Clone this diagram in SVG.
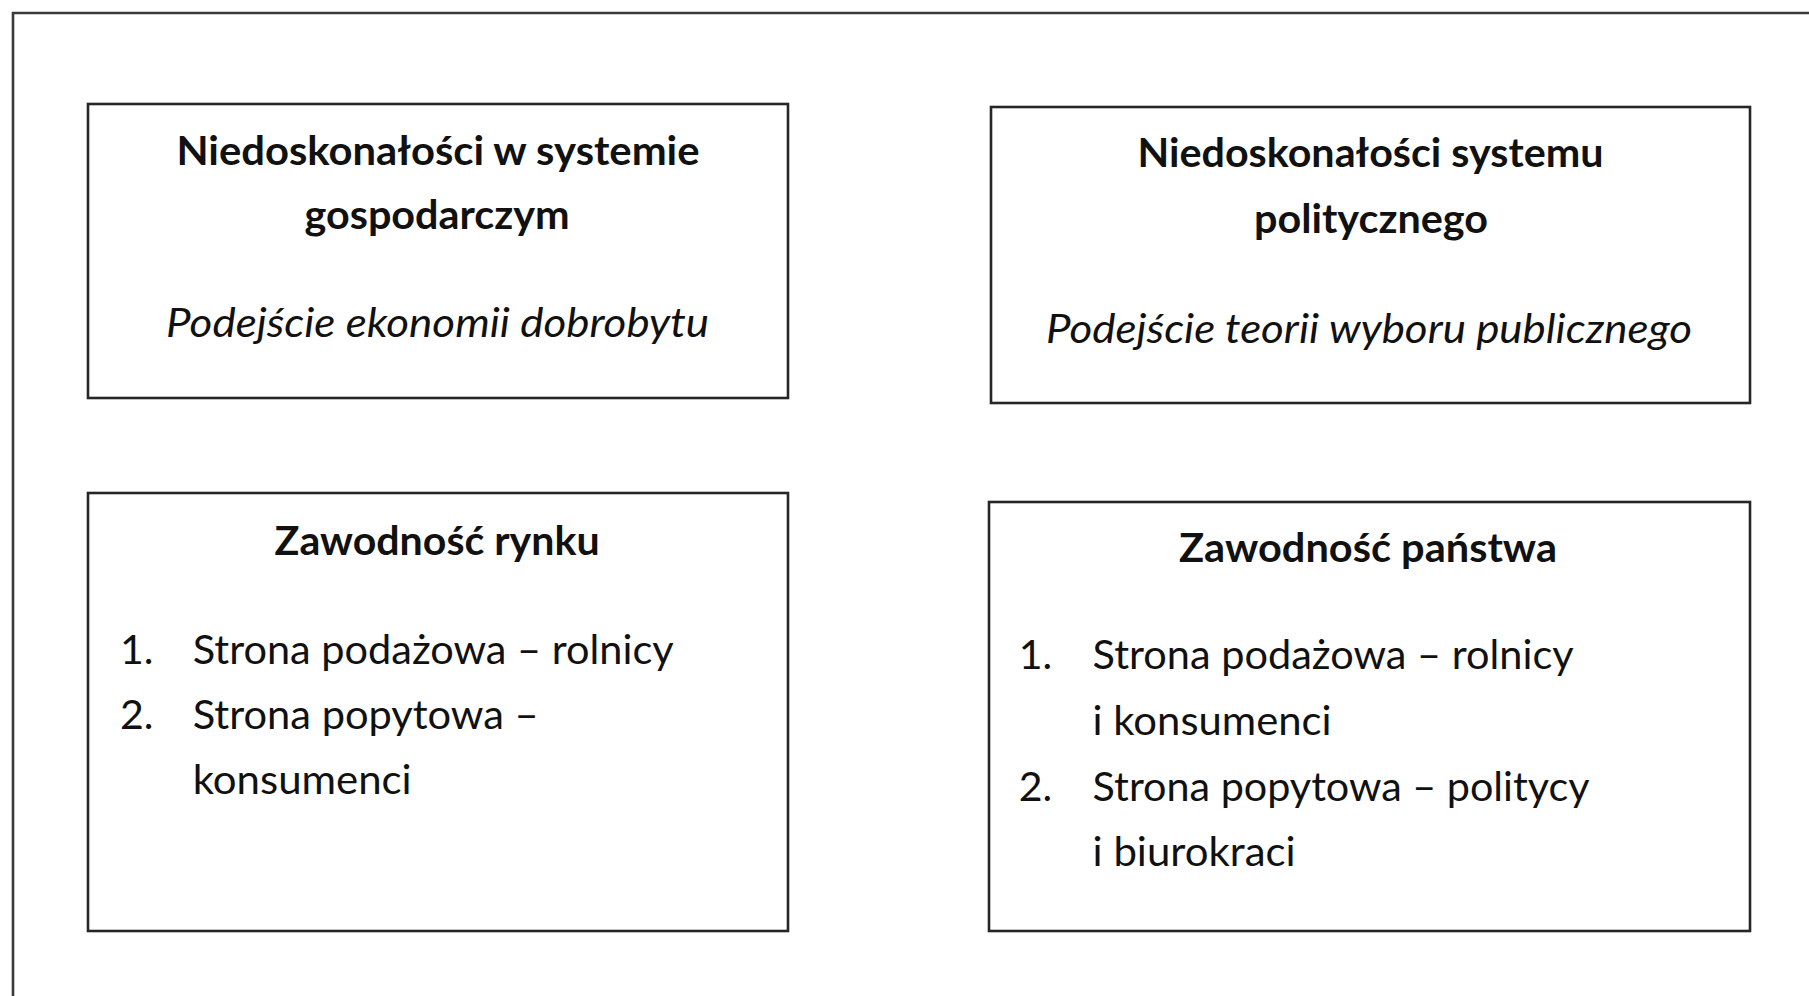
<svg xmlns="http://www.w3.org/2000/svg" width="1809" height="996" viewBox="0 0 1809 996">
<style>
.box{fill:#ffffff;stroke:#262626;stroke-width:2.6}
.frame{fill:none;stroke:#3a3a3a;stroke-width:2.6}
.t{font-family:Lato,"Liberation Sans",sans-serif;font-size:41px;fill:#111111}
.b{font-weight:bold}
.i{font-style:italic}
</style>
<rect x="0" y="0" width="1809" height="996" fill="#ffffff"/>
<g id="frame"><path class="frame" d="M13 996 V13 H1809"/></g>
<g id="connectors"></g>
<g id="node-gospodarczy">
<rect class="box" x="88" y="104" width="700" height="294"/>
<text class="t b" x="176.5" y="165" textLength="523" lengthAdjust="spacingAndGlyphs">Niedoskonałości w systemie</text>
<text class="t b" x="304.6" y="229" textLength="265" lengthAdjust="spacingAndGlyphs">gospodarczym</text>
<text class="t i" x="166" y="337" textLength="543" lengthAdjust="spacingAndGlyphs">Podejście ekonomii dobrobytu</text>
</g>
<g id="node-polityczny">
<rect class="box" x="991" y="107" width="759" height="296"/>
<text class="t b" x="1137.5" y="167" textLength="466" lengthAdjust="spacingAndGlyphs">Niedoskonałości systemu</text>
<text class="t b" x="1254" y="233" textLength="234" lengthAdjust="spacingAndGlyphs">politycznego</text>
<text class="t i" x="1046" y="343" textLength="646" lengthAdjust="spacingAndGlyphs">Podejście teorii wyboru publicznego</text>
</g>
<g id="node-rynek">
<rect class="box" x="88" y="493" width="700" height="438"/>
<text class="t b" x="274.6" y="555" textLength="325" lengthAdjust="spacingAndGlyphs">Zawodność rynku</text>
<text class="t" x="120" y="664">1.</text>
<text class="t" x="192.7" y="664" textLength="481" lengthAdjust="spacingAndGlyphs">Strona podażowa – rolnicy</text>
<text class="t" x="120" y="729">2.</text>
<text class="t" x="192.7" y="729" textLength="346" lengthAdjust="spacingAndGlyphs">Strona popytowa –</text>
<text class="t" x="192.7" y="794" textLength="219" lengthAdjust="spacingAndGlyphs">konsumenci</text>
</g>
<g id="node-panstwo">
<rect class="box" x="989" y="502" width="761" height="429"/>
<text class="t b" x="1179" y="562" textLength="378" lengthAdjust="spacingAndGlyphs">Zawodność państwa</text>
<text class="t" x="1018.7" y="669">1.</text>
<text class="t" x="1092.6" y="669" textLength="481" lengthAdjust="spacingAndGlyphs">Strona podażowa – rolnicy</text>
<text class="t" x="1092.6" y="735" textLength="239" lengthAdjust="spacingAndGlyphs">i konsumenci</text>
<text class="t" x="1018.7" y="801">2.</text>
<text class="t" x="1092.6" y="801" textLength="497" lengthAdjust="spacingAndGlyphs">Strona popytowa – politycy</text>
<text class="t" x="1092.6" y="866" textLength="203" lengthAdjust="spacingAndGlyphs">i biurokraci</text>
</g>
</svg>
